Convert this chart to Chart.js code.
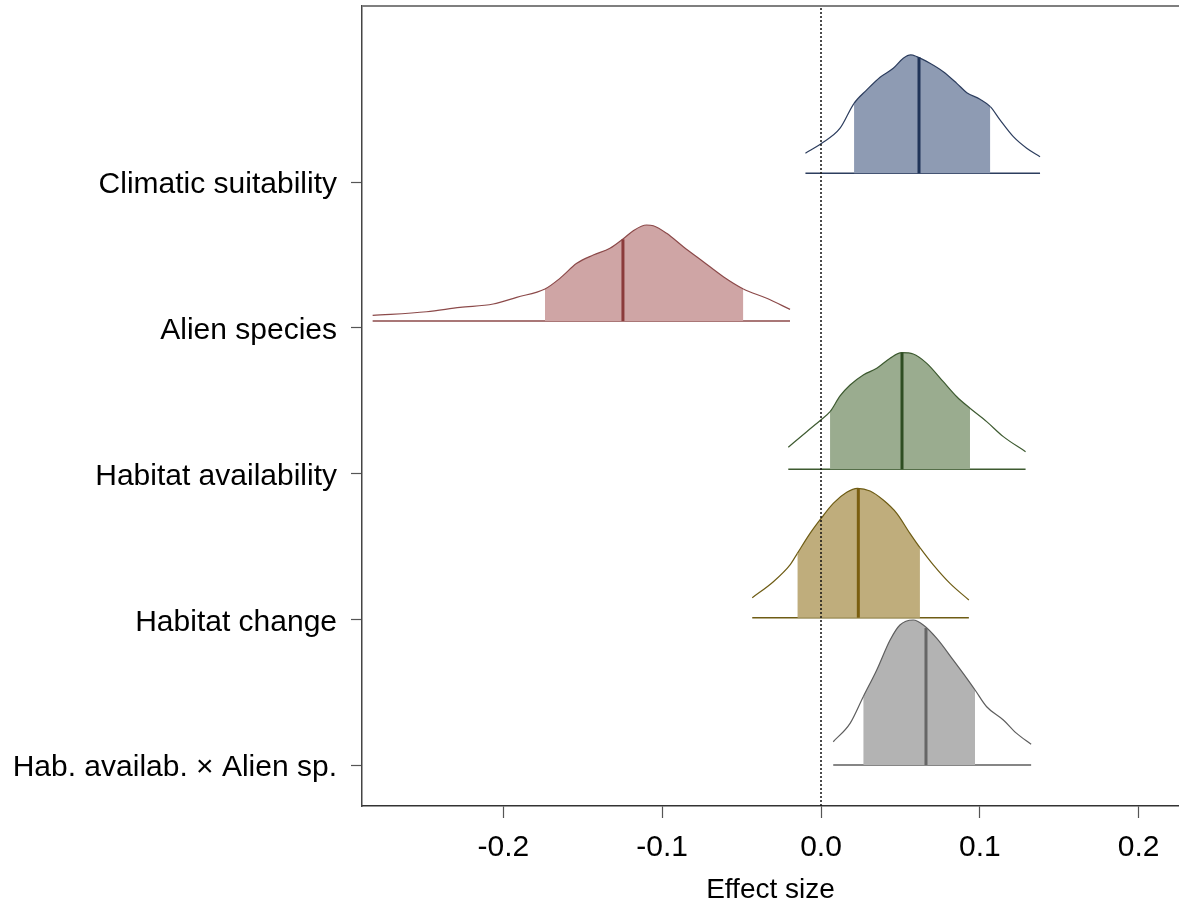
<!DOCTYPE html>
<html>
<head>
<meta charset="utf-8">
<script src="https://cdn.jsdelivr.net/npm/chart.js@4/dist/chart.umd.min.js"></script>
<style>html,body{margin:0;padding:0;background:#fff;overflow:hidden}</style>
</head>
<body>
<canvas id="c" width="1179" height="903"></canvas>
<script>
// ---- data ----
const categories = ['Climatic suitability', 'Alien species', 'Habitat availability', 'Habitat change', 'Hab. availab. \u00d7 Alien sp.'];
const tickPositions = [5, 4, 3, 2, 1];
const baselines = [5.06, 4.046, 3.029, 2.011, 1.0];
const xTicks = [-0.2, -0.1, 0.0, 0.1, 0.2];

const climaticX = [-0.0098, 0.0004, 0.012, 0.0208, 0.0288, 0.0372, 0.0455, 0.0518, 0.0565, 0.0603, 0.0686, 0.077, 0.0855, 0.0918, 0.1001, 0.1066, 0.1127, 0.1211, 0.1295, 0.1379];
const climaticD = [0.137, 0.206, 0.309, 0.480, 0.572, 0.659, 0.720, 0.789, 0.812, 0.800, 0.755, 0.697, 0.617, 0.553, 0.508, 0.457, 0.366, 0.251, 0.172, 0.114];

const alienX = [-0.2823, -0.2483, -0.2273, -0.2064, -0.1916, -0.1738, -0.1644, -0.1538, -0.1434, -0.1329, -0.1249, -0.1182, -0.1098, -0.1056, -0.0972, -0.0867, -0.0741, -0.0615, -0.0489, -0.0342, -0.0195];
const alienD = [0.039, 0.064, 0.094, 0.117, 0.163, 0.220, 0.293, 0.396, 0.453, 0.499, 0.561, 0.620, 0.659, 0.654, 0.602, 0.510, 0.407, 0.304, 0.220, 0.156, 0.080];

const habAvailX = [-0.0206, -0.009, 0.0004, 0.0057, 0.012, 0.0183, 0.0266, 0.0351, 0.0435, 0.0508, 0.0581, 0.0666, 0.077, 0.0855, 0.0938, 0.1043, 0.1148, 0.1288];
const habAvailD = [0.151, 0.258, 0.343, 0.395, 0.503, 0.578, 0.647, 0.693, 0.762, 0.800, 0.791, 0.727, 0.601, 0.498, 0.419, 0.327, 0.224, 0.121];

const habChangeX = [-0.0433, -0.03, -0.0195, -0.0149, -0.0069, 0.0004, 0.0077, 0.0162, 0.0229, 0.0309, 0.0392, 0.0477, 0.056, 0.0623, 0.0707, 0.0812, 0.0931];
const habChangeD = [0.137, 0.247, 0.362, 0.441, 0.578, 0.686, 0.784, 0.860, 0.887, 0.869, 0.807, 0.716, 0.578, 0.480, 0.362, 0.235, 0.121];

const interX = [0.0077, 0.0183, 0.0266, 0.0351, 0.0435, 0.0497, 0.0581, 0.0644, 0.0729, 0.0833, 0.0918, 0.097, 0.1043, 0.1148, 0.1232, 0.1323];
const interD = [0.160, 0.286, 0.469, 0.652, 0.858, 0.961, 0.995, 0.961, 0.869, 0.720, 0.595, 0.515, 0.400, 0.309, 0.217, 0.142];

const medians = [0.0617, -0.1247, 0.051, 0.0235, 0.0661];
const medianD = [0.796, 0.561, 0.800, 0.885, 0.94];
const ciLow = [0.0208, -0.1738, 0.0057, -0.0149, 0.0266];
const ciHigh = [0.1066, -0.0489, 0.0938, 0.0623, 0.097];

// ---- styles ----
const fillColors = ['#8e9bb3', '#cfa5a5', '#9aac8f', '#bfad7c', '#b3b3b3'];
const lineColors = ['#2c3d5e', '#8c4a4a', '#3d5a30', '#6e5c14', '#5e5e5e'];
const medianColors = ['#1f3358', '#8b3a3a', '#2e4d22', '#7a5e10', '#666666'];
const FONT = '"Liberation Sans", Arial, Helvetica, sans-serif';
const X_MIN = -0.289, X_MAX = 0.2254, Y_MIN = 0.719, Y_MAX = 6.2075;

const xs = [climaticX, alienX, habAvailX, habChangeX, interX];
const ds = [climaticD, alienD, habAvailD, habChangeD, interD];

const datasets = [];
datasets.push({
  data: [{x: 0, y: Y_MIN}, {x: 0, y: Y_MAX}],
  borderColor: '#111', borderWidth: 1.5, borderDash: [2, 2],
  pointRadius: 0, fill: false, order: 0
});
categories.forEach((name, i) => {
  const base = baselines[i];
  const lo = ciLow[i], hi = ciHigh[i];
  datasets.push({
    label: name,
    data: xs[i].map((x, k) => ({x: x, y: base + ds[i][k]})),
    borderColor: lineColors[i], borderWidth: 1.2,
    backgroundColor: fillColors[i],
    fill: {value: base},
    cubicInterpolationMode: 'monotone',
    pointRadius: 0, order: 2,
    segment: {
      backgroundColor: c => (c.p0.parsed.x >= lo - 1e-9 && c.p1.parsed.x <= hi + 1e-9) ? fillColors[i] : 'rgba(0,0,0,0)'
    }
  });
  datasets.push({
    data: [{x: xs[i][0], y: base}, {x: xs[i][xs[i].length - 1], y: base}],
    borderColor: lineColors[i], borderWidth: 1.5, pointRadius: 0, fill: false, order: 3
  });
  datasets.push({
    data: [{x: medians[i], y: base}, {x: medians[i], y: base + medianD[i]}],
    borderColor: medianColors[i], borderWidth: 3, pointRadius: 0, fill: false, order: 1
  });
});

const frame = {
  id: 'frame',
  afterDraw(chart) {
    const {ctx, chartArea: a} = chart;
    ctx.save();
    ctx.strokeStyle = '#7f7f7f';
    ctx.lineWidth = 2;
    ctx.beginPath();
    ctx.moveTo(a.left, a.top);
    ctx.lineTo(a.right, a.top);
    ctx.stroke();
    ctx.restore();
  }
};

new Chart(document.getElementById('c'), {
  type: 'line',
  data: {datasets: datasets},
  plugins: [frame],
  options: {
    responsive: false,
    animation: false,
    events: [],
    layout: {padding: {top: 6, right: 0, left: 0, bottom: 0}},
    plugins: {legend: {display: false}, tooltip: {enabled: false}},
    scales: {
      x: {
        type: 'linear', min: X_MIN, max: X_MAX,
        afterBuildTicks: s => { s.ticks = xTicks.map(v => ({value: v})); },
        afterFit: s => { s.height = 97; s.paddingLeft = 0; s.paddingRight = 0; },
        ticks: {
          color: '#000', padding: 12,
          font: {family: FONT, size: 30},
          callback: v => Number(v).toFixed(1)
        },
        grid: {drawOnChartArea: false, drawTicks: true, tickLength: 12, tickColor: '#555', tickWidth: 1.2},
        border: {display: true, color: '#333', width: 1.5},
        title: {display: true, text: 'Effect size', color: '#000', font: {family: FONT, size: 28}, padding: {top: 0, bottom: -4}}
      },
      y: {
        type: 'linear', min: Y_MIN, max: Y_MAX,
        afterBuildTicks: s => { s.ticks = tickPositions.map(v => ({value: v})); },
        afterFit: s => { s.width = 362; s.paddingTop = 0; s.paddingBottom = 0; },
        ticks: {
          color: '#000', padding: 14, labelOffset: 3,
          font: {family: FONT, size: 30},
          callback: v => { const k = tickPositions.indexOf(v); return k >= 0 ? categories[k] : ''; }
        },
        grid: {drawOnChartArea: false, drawTicks: true, tickLength: 11, tickColor: '#555', tickWidth: 1.2},
        border: {display: true, color: '#444', width: 1.5}
      }
    }
  }
});
</script>
</body>
</html>
